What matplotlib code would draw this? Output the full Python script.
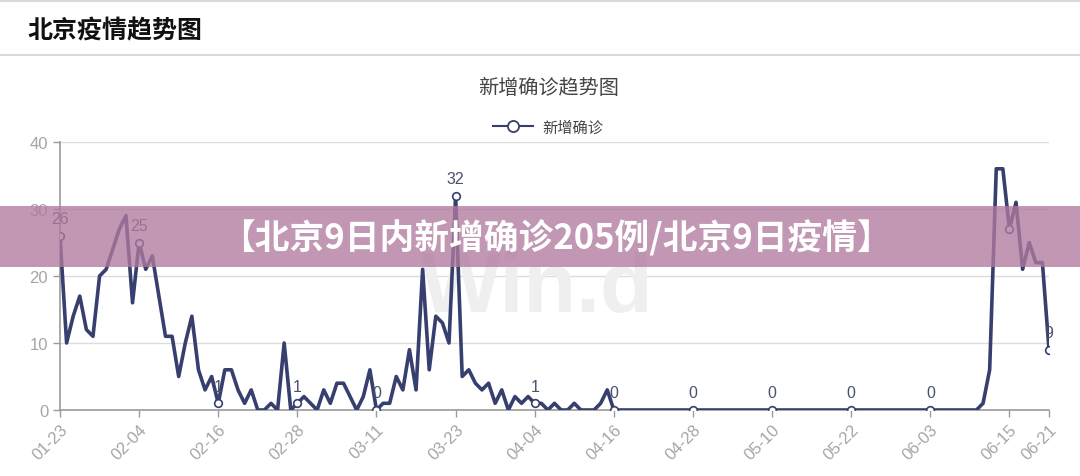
import matplotlib
matplotlib.use('Agg')
import matplotlib.pyplot as plt
import numpy as np
import pandas as pd
from matplotlib.patches import Rectangle
from matplotlib.lines import Line2D

plt.rcParams['font.family'] = ['Noto Sans CJK SC', 'DejaVu Sans']

# ------------------------------------------------------------------------------------------
# data (daily new confirmed cases, 01-23 .. 06-21)
dates = pd.date_range('2020-01-23', '2020-06-21').strftime('%m-%d').tolist()

new_cases = [26, 10, 14, 17, 12, 11, 20, 21, 24, 27,
             29, 16, 25, 21, 23, 17, 11, 11, 5, 10,
             14, 6, 3, 5, 1, 6, 6, 3, 1, 3,
             0, 0, 1, 0, 10, 0, 1, 2, 1, 0,
             3, 1, 4, 4, 2, 0, 2, 6, 0, 1,
             1, 5, 3, 9, 3, 21, 6, 14, 13, 10,
             32, 5, 6, 4, 3, 4, 1, 3, 0, 2,
             1, 2, 1, 1, 0, 1, 0, 0, 1, 0,
             0, 0, 1, 3, 0] + [0] * 55 + \
            [1, 6, 36, 36, 27, 31, 21, 25, 22, 22, 9]

tick_labels = ['01-23', '02-04', '02-16', '02-28', '03-11', '03-23', '04-04',
               '04-16', '04-28', '05-10', '05-22', '06-03', '06-15', '06-21']
marker_dates = tick_labels
label_dates = ['01-23', '02-04', '02-16', '02-28', '03-11', '03-23', '04-04',
               '04-16', '04-28', '05-10', '05-22', '06-03', '06-21']

header = '北京疫情趋势图'
title = '新增确诊趋势图'
series_name = '新增确诊'
banner = '【北京9日内新增确诊205例/北京9日疫情】'
# ------------------------------------------------------------------------------------------

line_color = '#363f6e'
grey = '#9b9b9b'

fig = plt.figure(figsize=(10.8, 4.77), dpi=100)
fig.patch.set_facecolor('white')
ax = fig.add_axes([60 / 1080, 1 - 411 / 477, 989 / 1080, 268 / 477])

x = np.arange(len(dates))
y = np.array(new_cases)

ax.plot(x, y, color=line_color, lw=2.6, solid_joinstyle='round', zorder=3)

mk = [dates.index(d) for d in marker_dates]
ax.plot(x[mk], y[mk], ls='none', marker='o', ms=5.5, mfc='white',
        mec=line_color, mew=1.2, zorder=4)

for d in label_dates:
    i = dates.index(d)
    ax.annotate(str(new_cases[i]), (x[i], y[i]), xytext=(0, 7),
                textcoords='offset points', ha='center', va='bottom',
                fontsize=11.5, color='#4a5070', family='Liberation Sans', zorder=5)

ax.set_xlim(0, len(dates) - 1)
ax.set_ylim(0, 40)
ax.set_yticks([0, 10, 20, 30, 40])
ax.set_xticks([dates.index(d) for d in tick_labels])
ax.set_xticklabels(tick_labels, rotation=45, ha='right', rotation_mode='anchor')
ax.grid(axis='y', color='#dcdcdc', lw=1)
ax.set_axisbelow(True)
for s in ['top', 'right']:
    ax.spines[s].set_visible(False)
for s in ['left', 'bottom']:
    ax.spines[s].set_color(grey)
    ax.spines[s].set_linewidth(1.2)
ax.tick_params(axis='both', colors=grey, labelcolor='#a5a5a5', length=5, width=1,
               labelsize=12)
ax.tick_params(axis='x', pad=3)
for t in ax.get_xticklabels() + ax.get_yticklabels():
    t.set_family('Liberation Sans')

# faint watermark
ax.text(0.482, 0.45, 'Win.d', transform=ax.transAxes, ha='center', va='center',
        fontsize=62, fontweight='bold', color='#efefef', family='Liberation Sans',
        zorder=1)

# header / frame
fig.add_artist(Line2D([0, 1], [1 - 2 / 477, 1 - 2 / 477], color='#d9d9d9', lw=1.5))
fig.add_artist(Line2D([0, 1], [1 - 56 / 477, 1 - 56 / 477], color='#d9d9d9', lw=1.5))
fig.text(27 / 1080, 1 - 31 / 477, header, fontsize=18, fontweight='bold',
         color='#111111', va='center', ha='left')
fig.text(549 / 1080, 1 - 89 / 477, title, fontsize=14.5, color='#444444',
         va='center', ha='center')

# legend
ax.legend([Line2D([], [], color=line_color, lw=1.5, marker='o', ms=8, mfc='white',
                  mec=line_color, mew=1.3)], [series_name],
          loc='center', bbox_to_anchor=(548 / 1080, 1 - 128 / 477),
          bbox_transform=fig.transFigure, frameon=False, fontsize=11,
          labelcolor='#444444', handlelength=2.6, handletextpad=0.6)

# banner overlay
fig.add_artist(Rectangle((0, 1 - 268 / 477), 1, 61 / 477, transform=fig.transFigure,
                         facecolor='#b07a9f', alpha=0.78, edgecolor='none', zorder=10))
fig.text(556 / 1080, 1 - 238 / 477, banner, fontsize=25, fontweight='bold',
         color='white', ha='center', va='center', zorder=11)

fig.savefig('out.png', dpi=100)
